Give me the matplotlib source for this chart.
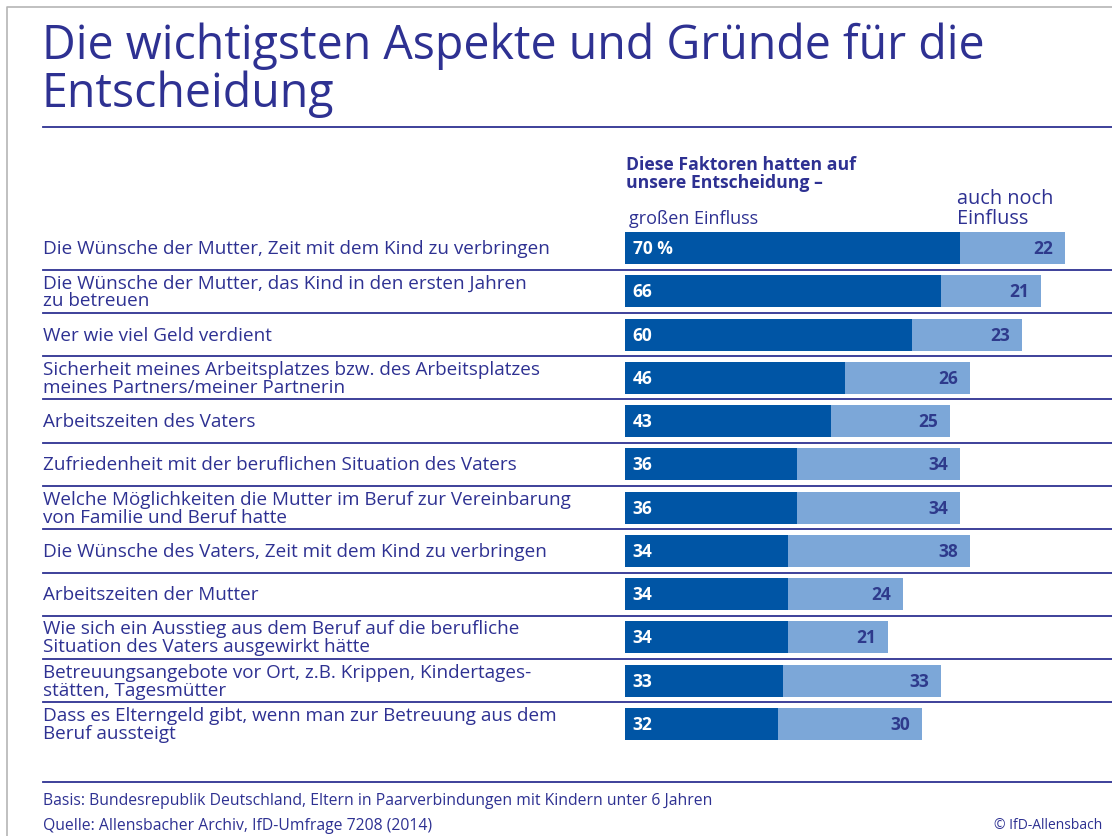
import matplotlib
matplotlib.use("Agg")
import matplotlib.pyplot as plt
import matplotlib.transforms as mtransforms
from matplotlib.lines import Line2D

plt.rcParams['font.family'] = ['Open Sans', 'DejaVu Sans']

# Data
categories = [
    "Die Wünsche der Mutter, Zeit mit dem Kind zu verbringen",
    "Die Wünsche der Mutter, das Kind in den ersten Jahren\nzu betreuen",
    "Wer wie viel Geld verdient",
    "Sicherheit meines Arbeitsplatzes bzw. des Arbeitsplatzes\nmeines Partners/meiner Partnerin",
    "Arbeitszeiten des Vaters",
    "Zufriedenheit mit der beruflichen Situation des Vaters",
    "Welche Möglichkeiten die Mutter im Beruf zur Vereinbarung\nvon Familie und Beruf hatte",
    "Die Wünsche des Vaters, Zeit mit dem Kind zu verbringen",
    "Arbeitszeiten der Mutter",
    "Wie sich ein Ausstieg aus dem Beruf auf die berufliche\nSituation des Vaters ausgewirkt hätte",
    "Betreuungsangebote vor Ort, z.B. Krippen, Kindertages-\nstätten, Tagesmütter",
    "Dass es Elterngeld gibt, wenn man zur Betreuung aus dem\nBeruf aussteigt",
]
gross_einfluss = [70, 66, 60, 46, 43, 36, 36, 34, 34, 34, 33, 32]
auch_einfluss = [22, 21, 23, 26, 25, 34, 34, 38, 24, 21, 33, 30]

navy = "#2E3192"
dark_blue = "#0055A5"
light_blue = "#7CA7D8"
value_col = "#2E3A8C"

W, H = 1112, 837
fig = plt.figure(figsize=(W / 100, H / 100), dpi=100)
fig.patch.set_facecolor("white")

def fx(px):
    return px / W

def fy(py):
    return 1 - py / H

# bar axes: x 0..100 units from 625px, 4.786 px/unit
ax_left, ax_right = 625, 625 + 100 * 4.786
ax_top, ax_bot = 227.4, 746.6
ax = fig.add_axes([fx(ax_left), fy(ax_bot), fx(ax_right) - fx(ax_left), (ax_bot - ax_top) / H])
ax.set_xlim(0, 100)
ax.set_ylim(len(categories) - 0.5, -0.5)
ax.axis("off")

ypos = list(range(len(categories)))
ax.barh(ypos, gross_einfluss, height=0.74, color=dark_blue)
ax.barh(ypos, auch_einfluss, left=gross_einfluss, height=0.74, color=light_blue)

for i, (g, a) in enumerate(zip(gross_einfluss, auch_einfluss)):
    lbl = f"{g} %" if i == 0 else str(g)
    ax.text(1.6, i, lbl, color="white", fontsize=12.5, fontweight="bold",
            va="center", ha="left")
    ax.text(g + a - 2.5, i, str(a), color=value_col, fontsize=12.5,
            fontweight="bold", va="center", ha="right")

# row separators across the full width
trans = mtransforms.blended_transform_factory(fig.transFigure, ax.transData)
for i in range(len(categories) - 1):
    ax.add_line(Line2D([fx(43), 1.0], [i + 0.5, i + 0.5], transform=trans,
                       color=navy, linewidth=1.3, clip_on=False))

# category labels
for i, c in enumerate(categories):
    ax.text(fx(43), i, c, transform=trans, color=navy, fontsize=13.6,
            va="center", ha="left", linespacing=1.0)

# title
fig.text(fx(42), fy(59), "Die wichtigsten Aspekte und Gründe für die",
         color=navy, fontsize=33.5, va="baseline", ha="left")
fig.text(fx(42), fy(107), "Entscheidung",
         color=navy, fontsize=33.5, va="baseline", ha="left")
fig.add_artist(Line2D([fx(43), 1.0], [fy(128), fy(128)], color=navy, linewidth=1.3))

# column headers
fig.text(fx(626), fy(174), "Diese Faktoren hatten auf\nunsere Entscheidung –",
         color=navy, fontsize=12.7, fontweight="bold", va="center", ha="left",
         linespacing=1.05)
fig.text(fx(629), fy(219), "großen Einfluss", color=navy, fontsize=13,
         va="center", ha="left")
fig.text(fx(957), fy(209), "auch noch\nEinfluss", color=navy, fontsize=14.3,
         va="center", ha="left", linespacing=0.95)

# footer
fig.add_artist(Line2D([fx(43), 1.0], [fy(783), fy(783)], color=navy, linewidth=1.3))
fig.text(fx(43), fy(801), "Basis: Bundesrepublik Deutschland, Eltern in Paarverbindungen mit Kindern unter 6 Jahren",
         color=navy, fontsize=11.3, va="center", ha="left")
fig.text(fx(43), fy(826), "Quelle: Allensbacher Archiv, IfD-Umfrage 7208 (2014)",
         color=navy, fontsize=11.3, va="center", ha="left")
fig.text(fx(1102), fy(826), "© IfD-Allensbach", color=navy, fontsize=10,
         va="center", ha="right")

# grey frame
fig.add_artist(Line2D([fx(7), fx(7), 1.0], [0.0, fy(8), fy(8)], color="#B5B5B5",
                      linewidth=1.2))

fig.savefig("out.png", dpi=100)
